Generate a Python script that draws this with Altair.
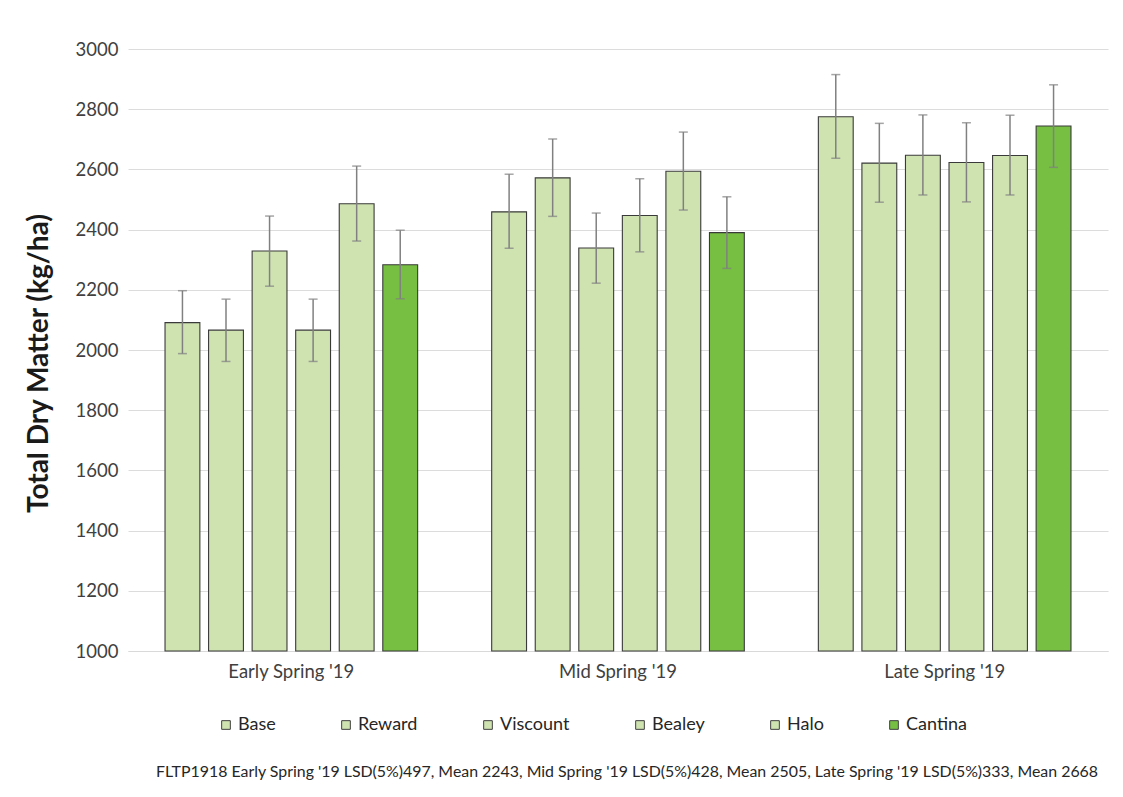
import altair as alt
import pandas as pd

periods = ["Early Spring '19", "Mid Spring '19", "Late Spring '19"]
varieties = ["Base", "Reward", "Viscount", "Bealey", "Halo", "Cantina"]

early = [2091, 2066, 2329, 2066, 2486, 2283]
mid = [2459, 2572, 2339, 2447, 2594, 2390]
late = [2775, 2621, 2647, 2623, 2646, 2744]

early_hi = [2197, 2169, 2445, 2169, 2611, 2398]
early_lo = [1988, 1962, 2212, 1962, 2362, 2170]
mid_hi = [2584, 2701, 2455, 2569, 2724, 2509]
mid_lo = [2338, 2444, 2222, 2326, 2465, 2271]
late_hi = [2915, 2753, 2781, 2755, 2780, 2881]
late_lo = [2637, 2491, 2515, 2492, 2515, 2607]

colors = ["#cfe3b1", "#cfe3b1", "#cfe3b1", "#cfe3b1", "#cfe3b1", "#77bf43"]

note = ("FLTP1918 Early Spring '19 LSD(5%)497, Mean 2243, Mid Spring '19 LSD(5%)428, "
        "Mean 2505, Late Spring '19 LSD(5%)333, Mean 2668")

rows = []
for p, vals, his, los in zip(periods, [early, mid, late], [early_hi, mid_hi, late_hi],
                             [early_lo, mid_lo, late_lo]):
    for v, val, hi, lo in zip(varieties, vals, his, los):
        rows.append({"period": p, "variety": v, "value": val, "hi": hi, "lo": lo})
df = pd.DataFrame(rows)

FONT = "Lato"

x_enc = alt.X("period:N", sort=periods, title=None,
              scale=alt.Scale(paddingInner=0.2, paddingOuter=0.1),
              axis=alt.Axis(labelFontSize=18.5, labelColor="#404040", labelFont=FONT,
                            labelPadding=11, ticks=False, domainColor="#d9d9d9",
                            domainWidth=1, labelAngle=0, grid=False))
xo_enc = alt.XOffset("variety:N", sort=varieties,
                     scale=alt.Scale(paddingInner=0.2, paddingOuter=0.1))
y_scale = alt.Scale(domain=[1000, 3000], zero=False, nice=False)

base = alt.Chart(df)

bars = base.mark_bar(stroke="#3a3a3a", strokeWidth=1.1).encode(
    x=x_enc,
    xOffset=xo_enc,
    y=alt.Y("value:Q", scale=y_scale, title="Total Dry Matter (kg/ha)",
            axis=alt.Axis(values=list(range(1000, 3001, 200)), format="d",
                          labelFontSize=18.5, labelColor="#404040", labelFont=FONT,
                          labelPadding=10, ticks=False, domain=False,
                          gridColor="#dcdcdc", gridWidth=1,
                          titleFont=FONT, titleFontSize=28, titleFontWeight="bold",
                          titleColor="#1a1a1a", titleX=-89, titleY=314,
                          titleAngle=270, titleAlign="center", titleBaseline="middle")),
    y2=alt.datum(1000),
    fill=alt.Fill("variety:N", sort=varieties,
                  scale=alt.Scale(domain=varieties, range=colors),
                  legend=alt.Legend(title=None, orient="none", direction="horizontal",
                                    legendX=89, legendY=667, symbolType="square",
                                    symbolSize=75, symbolStrokeColor="#404040",
                                    symbolStrokeWidth=1, labelFontSize=18,
                                    labelFont=FONT, labelColor="#262626",
                                    labelOffset=3, columnPadding=61, padding=0)),
)

rules = base.mark_rule(color="#808080", strokeWidth=1.5).encode(
    x=alt.X("period:N", sort=periods),
    xOffset=alt.XOffset("variety:N", sort=varieties),
    y=alt.Y("lo:Q", scale=y_scale),
    y2="hi:Q",
)

caps_hi = base.mark_tick(color="#808080", thickness=1.5, size=9, orient="horizontal").encode(
    x=alt.X("period:N", sort=periods),
    xOffset=alt.XOffset("variety:N", sort=varieties),
    y=alt.Y("hi:Q", scale=y_scale),
)
caps_lo = base.mark_tick(color="#808080", thickness=1.5, size=9, orient="horizontal").encode(
    x=alt.X("period:N", sort=periods),
    xOffset=alt.XOffset("variety:N", sort=varieties),
    y=alt.Y("lo:Q", scale=y_scale),
)

chart = alt.layer(bars, rules, caps_hi, caps_lo).properties(
    width=980,
    height=602,
    autosize="none",
    background="white",
    padding={"left": 120, "top": 41, "right": 7, "bottom": 140},
    title=alt.TitleParams(text=note, orient="bottom", anchor="middle", frame="group",
                          font=FONT, fontSize=15.9, fontWeight="normal", color="#262626",
                          offset=30, dx=9),
).configure_view(stroke=None)

chart.save("out.html", embed_options={"renderer": "svg", "actions": False})
